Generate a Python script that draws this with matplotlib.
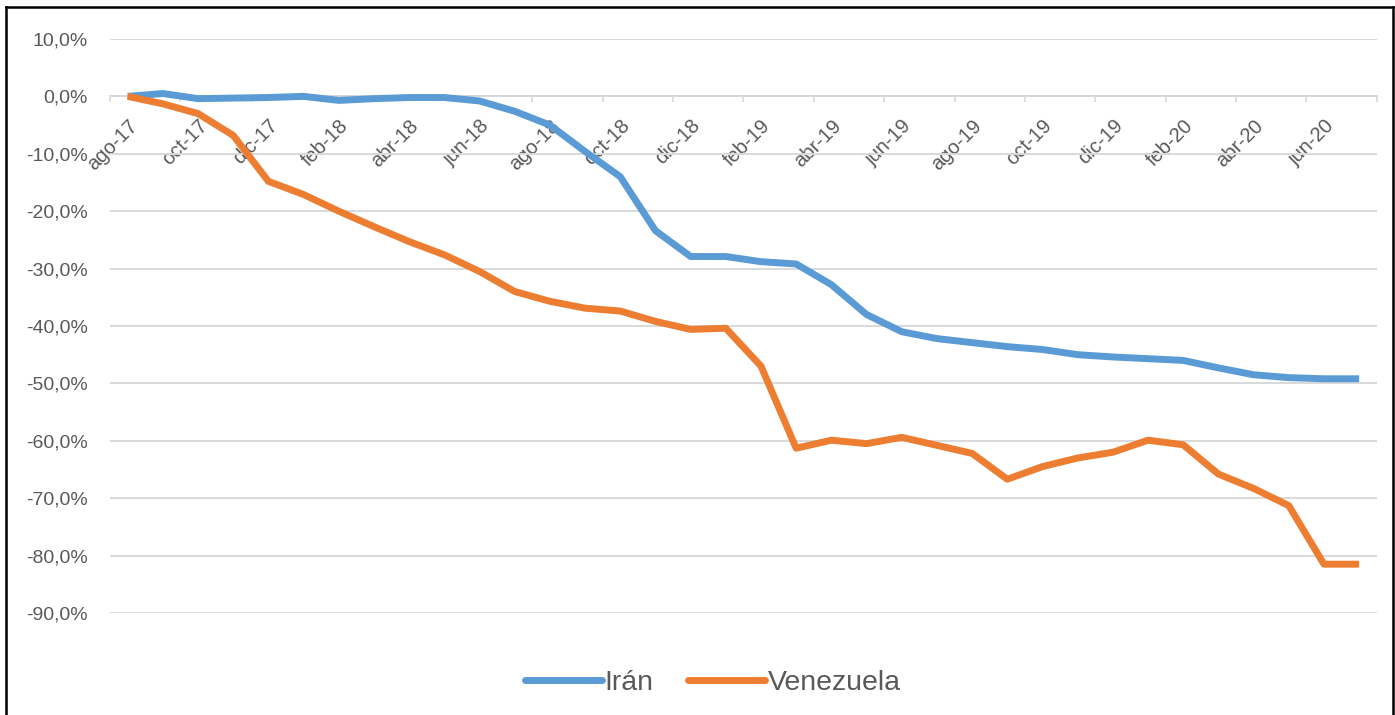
import matplotlib
matplotlib.use("Agg")
import matplotlib.pyplot as plt
from matplotlib.lines import Line2D

# meses ago-17 .. jul-20
meses = ["ago-17", "sep-17", "oct-17", "nov-17", "dic-17", "ene-18",
         "feb-18", "mar-18", "abr-18", "may-18", "jun-18", "jul-18",
         "ago-18", "sep-18", "oct-18", "nov-18", "dic-18", "ene-19",
         "feb-19", "mar-19", "abr-19", "may-19", "jun-19", "jul-19",
         "ago-19", "sep-19", "oct-19", "nov-19", "dic-19", "ene-20",
         "feb-20", "mar-20", "abr-20", "may-20", "jun-20", "jul-20"]

iran = [0.0, 0.5, -0.4, -0.3, -0.2, 0.0, -0.7, -0.4, -0.2, -0.2,
        -0.8, -2.6, -5.0, -9.6, -14.0, -23.4, -27.9, -27.9, -28.8, -29.2,
        -32.8, -38.0, -41.0, -42.2, -42.9, -43.6, -44.1, -45.0, -45.4, -45.7,
        -46.0, -47.3, -48.5, -49.0, -49.2, -49.2]

venezuela = [0.0, -1.3, -3.0, -6.8, -14.8, -17.1, -20.0, -22.7, -25.3, -27.6,
             -30.5, -34.0, -35.7, -36.9, -37.4, -39.2, -40.6, -40.4, -47.0, -61.3,
             -59.9, -60.5, -59.4, -60.8, -62.2, -66.7, -64.5, -63.0, -62.0, -59.9,
             -60.7, -65.8, -68.3, -71.3, -81.5, -81.5]

y_ticks = list(range(10, -100, -10))

plt.rcParams['font.family'] = ['Liberation Sans', 'DejaVu Sans']
gris = "#595959"

fig = plt.figure(figsize=(13.95, 7.15), dpi=100)
ax = fig.add_axes([0.0789, 0.1427, 0.908, 0.8028])

x = list(range(len(meses)))
ax.plot(x, iran, color="#5B9BD5", lw=5, solid_capstyle="butt",
        solid_joinstyle="round", label="Irán", zorder=3)
ax.plot(x, venezuela, color="#ED7D31", lw=5, solid_capstyle="butt",
        solid_joinstyle="round", label="Venezuela", zorder=3)

ax.set_xlim(-0.5, len(meses) - 0.5)
ax.set_ylim(-90, 10)

ax.set_yticks(y_ticks)
ax.set_yticklabels([f"{v:.1f}%".replace(".", ",") for v in y_ticks])
ax.yaxis.grid(True, color="#D9D9D9", lw=1.4)
ax.set_axisbelow(True)
ax.tick_params(axis="y", length=0, pad=16, labelsize=14, labelcolor=gris)

# eje x en 0
for s in ["left", "right", "top"]:
    ax.spines[s].set_visible(False)
ax.spines["bottom"].set_position(("data", 0))
ax.spines["bottom"].set_color("#D9D9D9")
ax.spines["bottom"].set_linewidth(1.4)

ax.set_xticks(x[::2])
ax.set_xticklabels(meses[::2], rotation=45, ha="right", rotation_mode="anchor")
ax.set_xticks([i - 0.5 for i in range(0, len(meses) + 1, 2)], minor=True)
ax.tick_params(axis="x", which="major", length=0, pad=14, labelsize=14.5,
               labelcolor=gris)
ax.tick_params(axis="x", which="minor", length=4, width=1.2, color="#D9D9D9")

leg = fig.legend(loc="center", bbox_to_anchor=(0.511, 0.045), ncol=2,
                 frameon=False, fontsize=20.5, handlelength=2.7,
                 handletextpad=0.1, columnspacing=1.2)
for t in leg.get_texts():
    t.set_color(gris)
for h in leg.get_lines():
    h.set_linewidth(5)
    h.set_solid_capstyle("round")

# marco
lw = 1.8
fig.add_artist(Line2D([0.0043, 0.0043], [0.0, 0.990], color="black", lw=lw,
                      transform=fig.transFigure))
fig.add_artist(Line2D([0.9986, 0.9986], [0.0, 0.990], color="black", lw=lw,
                      transform=fig.transFigure))
fig.add_artist(Line2D([0.0043, 0.9986], [0.990, 0.990], color="black", lw=lw,
                      transform=fig.transFigure))

fig.savefig("out.png", dpi=100)
